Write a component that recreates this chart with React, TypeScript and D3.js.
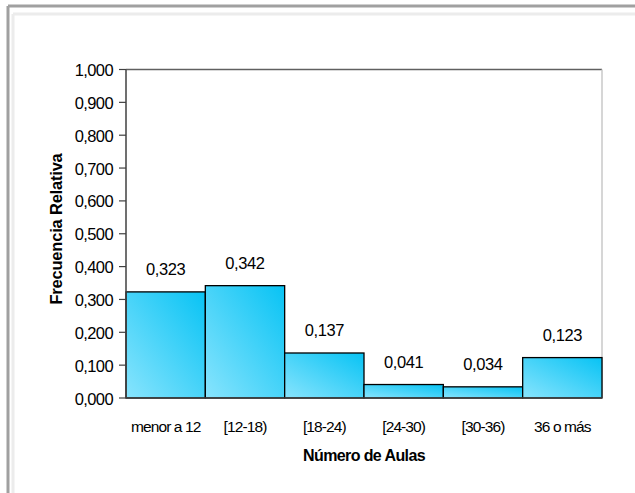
import React from "react";
import * as d3 from "d3";

const categories = ["menor a 12", "[12-18)", "[18-24)", "[24-30)", "[30-36)", "36 o más"];
const values = [0.323, 0.342, 0.137, 0.041, 0.034, 0.123];
const yTicks = [0, 0.1, 0.2, 0.3, 0.4, 0.5, 0.6, 0.7, 0.8, 0.9, 1.0];
const xTitle = "Número de Aulas";
const yTitle = "Frecuencia Relativa";

const W = 635;
const H = 493;
const FONT = "'Liberation Sans', Arial, sans-serif";

const locale = d3.formatLocale({ decimal: ",", thousands: ".", grouping: [3], currency: ["", ""] });
const fmt = locale.format(".3f");

export default function App() {
  const x = d3.scaleBand<string>().domain(categories).range([126, 602]).padding(0);
  const y = d3.scaleLinear().domain([0, 1]).range([398, 69.5]);
  const [x0, x1] = x.range();
  const [yb, yt] = y.range();

  return (
    <svg
      width={W}
      height={H}
      style={{ position: "absolute", left: 0, top: 0, background: "#fff" }}
      fontFamily={FONT}
    >
      <defs>
        <linearGradient id="barGrad" x1="0" y1="1" x2="1" y2="0">
          <stop offset="0%" stopColor="#88e4fd" />
          <stop offset="100%" stopColor="#08c3f4" />
        </linearGradient>
      </defs>
      {/* outer frame */}
      <rect x={0} y={0} width={W} height={H} fill="#fff" />
      <line x1={8} y1={6} x2={W} y2={6} stroke="#a0a0a0" strokeWidth={3} />
      <line x1={8} y1={6} x2={8} y2={H} stroke="#a0a0a0" strokeWidth={3} />
      <line x1={13} y1={14} x2={W} y2={14} stroke="#ececec" strokeWidth={3} />
      <line x1={13} y1={14} x2={13} y2={H} stroke="#ececec" strokeWidth={3} />

      {/* plot border */}
      <line x1={x0} y1={yt} x2={x1} y2={yt} stroke="#606060" strokeWidth={1.5} />
      <line x1={x1} y1={yt} x2={x1} y2={yb} stroke="#c8c8c8" strokeWidth={1.5} />

      {/* bars */}
      {categories.map((c, i) => (
        <rect
          key={c}
          x={x(c)!}
          y={y(values[i])}
          width={x.bandwidth()}
          height={yb - y(values[i])}
          fill="url(#barGrad)"
          stroke="#000"
          strokeWidth={1.3}
        />
      ))}

      {/* value labels */}
      {categories.map((c, i) => (
        <text
          key={"v" + c}
          x={x(c)! + x.bandwidth() / 2}
          y={y(values[i]) - 17}
          textAnchor="middle"
          fontSize={16.5}
          letterSpacing={-0.4}
          fill="#000"
        >
          {fmt(values[i])}
        </text>
      ))}

      {/* y axis */}
      <line x1={x0} y1={yt} x2={x0} y2={yb} stroke="#404040" strokeWidth={1.5} />
      <line x1={x0} y1={yb} x2={x1} y2={yb} stroke="#404040" strokeWidth={1.5} />
      {yTicks.map((t) => (
        <g key={t}>
          <line x1={x0 - 7} y1={y(t)} x2={x0} y2={y(t)} stroke="#404040" strokeWidth={1.2} />
          <text
            x={113}
            y={y(t) + 6.5}
            textAnchor="end"
            fontSize={16.5}
            letterSpacing={-0.6}
            fill="#000"
          >
            {fmt(t)}
          </text>
        </g>
      ))}

      {/* category labels */}
      {categories.map((c) => (
        <text
          key={"c" + c}
          x={x(c)! + x.bandwidth() / 2}
          y={432}
          textAnchor="middle"
          fontSize={15.5}
          letterSpacing={-0.9}
          fill="#000"
        >
          {c}
        </text>
      ))}

      {/* axis titles */}
      <text x={364} y={461} textAnchor="middle" fontSize={16} fontWeight="bold" letterSpacing={-0.6} fill="#000">
        {xTitle}
      </text>
      <text
        transform={`translate(62,229) rotate(-90)`}
        textAnchor="middle"
        fontSize={16.5}
        fontWeight="bold"
        letterSpacing={-0.2}
        fill="#000"
      >
        {yTitle}
      </text>
    </svg>
  );
}
